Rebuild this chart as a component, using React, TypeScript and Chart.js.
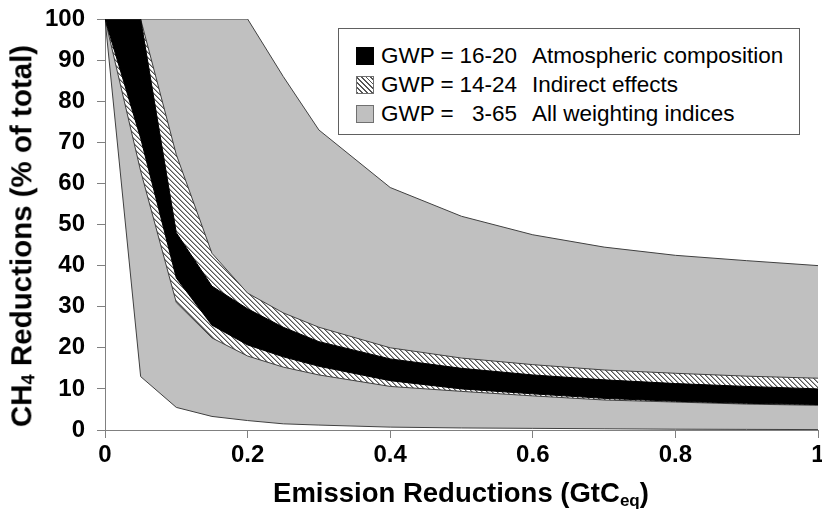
import React, { useEffect, useRef } from "react";
import { Chart, registerables } from "chart.js";

Chart.register(...registerables);

// Emission reductions (GtCeq) at which the band edges were read
const xValues = [0, 0.05, 0.1, 0.15, 0.2, 0.25, 0.3, 0.4, 0.5, 0.6, 0.7, 0.8, 0.9, 1.0];

// GWP = 16-20 (Atmospheric composition)
const blackUpper = [100, 100, 48, 35, 29.5, 25, 21.5, 17.3, 15, 13.4, 12.2, 11.3, 10.6, 10];
const blackLower = [100, 71, 37, 25.5, 20.7, 17.8, 15.5, 12, 10, 8.8, 7.7, 7.0, 6.5, 6.2];

// GWP = 14-24 (Indirect effects)
const hatchUpper = [100, 100, 67, 43, 33.3, 28.5, 25, 20, 17.5, 15.9, 14.6, 13.8, 13.1, 12.6];
const hatchLower = [100, 63, 31, 22.4, 18, 15.3, 13.4, 10.6, 9.4, 8.3, 7.3, 6.8, 6.3, 6.0];

// GWP = 3-65 (All weighting indices)
const grayUpper = [100, 100, 100, 100, 100, 86, 73, 59, 52, 47.5, 44.5, 42.5, 41.2, 40];
const grayLower = [100, 13, 5.5, 3.3, 2.3, 1.5, 1.2, 0.7, 0.5, 0.4, 0.3, 0.2, 0.15, 0.1];

const xTickValues = [0, 0.2, 0.4, 0.6, 0.8, 1];
const xTickLabels = ["0", "0.2", "0.4", "0.6", "0.8", "1"];
const yTickValues = [0, 10, 20, 30, 40, 50, 60, 70, 80, 90, 100];
const yTickLabels = ["0", "10", "20", "30", "40", "50", "60", "70", "80", "90", "100"];

const legendGwp = ["16-20", "14-24", "3-65"];
const legendDesc = ["Atmospheric composition", "Indirect effects", "All weighting indices"];

const toPoints = (ys: number[]) => xValues.map((x, i) => ({ x, y: ys[i] }));

function makeHatch(ctx: CanvasRenderingContext2D) {
  const n = 5;
  const c = document.createElement("canvas");
  c.width = n;
  c.height = n;
  const g = c.getContext("2d")!;
  g.fillStyle = "#ffffff";
  g.fillRect(0, 0, n, n);
  for (let y = 0; y < n; y++) {
    for (let x = 0; x < n; x++) {
      const m = (((x - y) % n) + n) % n;
      if (m === 0) {
        g.fillStyle = "#555555";
        g.fillRect(x, y, 1, 1);
      } else if (m === 1) {
        g.fillStyle = "#a8a8a8";
        g.fillRect(x, y, 1, 1);
      }
    }
  }
  return ctx.createPattern(c, "repeat")!;
}

export default function App() {
  const canvasRef = useRef<HTMLCanvasElement | null>(null);

  useEffect(() => {
    const canvas = canvasRef.current!;
    const ctx = canvas.getContext("2d")!;
    const hatch = makeHatch(ctx);
    const edge = "#404040";
    const base = {
      pointRadius: 0,
      pointHoverRadius: 0,
      tension: 0,
      borderWidth: 1,
    };
    const chart = new Chart(ctx, {
      type: "line",
      data: {
        datasets: [
          { ...base, label: "bu", data: toPoints(blackUpper), borderColor: "#000", backgroundColor: "#000", fill: "+1" },
          { ...base, label: "bl", data: toPoints(blackLower), borderColor: "#000", backgroundColor: "#000", fill: false },
          { ...base, label: "hu", data: toPoints(hatchUpper), borderColor: edge, backgroundColor: hatch, fill: "+1" },
          { ...base, label: "hl", data: toPoints(hatchLower), borderColor: edge, backgroundColor: hatch, fill: false },
          { ...base, label: "gu", data: toPoints(grayUpper), borderColor: edge, backgroundColor: "#c0c0c0", fill: "+1" },
          { ...base, label: "gl", data: toPoints(grayLower), borderColor: edge, backgroundColor: "#c0c0c0", fill: false },
        ],
      },
      options: {
        animation: false,
        responsive: false,
        maintainAspectRatio: false,
        events: [],
        layout: { padding: { top: 19, right: 4, left: 0, bottom: 0 } },
        plugins: {
          legend: { display: false },
          tooltip: { enabled: false },
          filler: { drawTime: "beforeDatasetsDraw" },
        },
        scales: {
          x: {
            type: "linear",
            min: 0,
            max: 1,
            afterBuildTicks: (s: any) => {
              s.ticks = xTickValues.map((v) => ({ value: v }));
            },
            afterFit: (s: any) => {
              s.height = 97;
              s.paddingLeft = 0;
              s.paddingRight = 0;
            },
            ticks: {
              autoSkip: false,
              maxRotation: 0,
              padding: 3,
              color: "#000",
              font: { family: "'Liberation Sans', Arial, sans-serif", size: 24, weight: "bold" },
              callback: (v: any) => {
                const i = xTickValues.findIndex((t) => Math.abs(t - Number(v)) < 1e-9);
                return i >= 0 ? xTickLabels[i] : "";
              },
            },
            grid: { drawOnChartArea: false, drawTicks: true, tickLength: 8, color: "#808080" },
            border: { display: true, color: "#808080", width: 1 },
          },
          y: {
            type: "linear",
            min: 0,
            max: 100,
            afterBuildTicks: (s: any) => {
              s.ticks = yTickValues.map((v) => ({ value: v }));
            },
            afterFit: (s: any) => {
              s.width = 105;
              s.paddingTop = 0;
              s.paddingBottom = 0;
            },
            ticks: {
              autoSkip: false,
              padding: 12,
              color: "#000",
              font: { family: "'Liberation Sans', Arial, sans-serif", size: 24, weight: "bold" },
              callback: (v: any) => {
                const i = yTickValues.indexOf(Number(v));
                return i >= 0 ? yTickLabels[i] : "";
              },
            },
            grid: { drawOnChartArea: false, drawTicks: true, tickLength: 8, color: "#808080" },
            border: { display: true, color: "#808080", width: 1 },
          },
        },
      },
    } as any);
    return () => chart.destroy();
  }, []);

  const font = "'Liberation Sans', Arial, sans-serif";
  const swatchBase: React.CSSProperties = {
    position: "absolute",
    left: 17,
    width: 18,
    height: 18,
    boxSizing: "border-box",
  };
  const swatchStyles: React.CSSProperties[] = [
    { background: "#000", border: "1px solid #000" },
    {
      background: "repeating-linear-gradient(45deg, #555555 0px, #555555 1.3px, #ffffff 1.3px, #ffffff 3.4px)",
      border: "1px solid #707070",
    },
    { background: "#c0c0c0", border: "1px solid #707070" },
  ];
  const rowCenters = [27, 56, 85];

  return (
    <div style={{ position: "absolute", left: 0, top: 0, width: 822, height: 527, background: "#fff", overflow: "hidden" }}>
      <canvas ref={canvasRef} width={822} height={527} style={{ position: "absolute", left: 0, top: 0, width: 822, height: 527 }} />
      {/* Legend */}
      <div
        style={{
          position: "absolute",
          left: 338,
          top: 28,
          width: 462,
          height: 107,
          boxSizing: "border-box",
          border: "1px solid #606060",
          background: "#fff",
          fontFamily: font,
          fontSize: 22.5,
          color: "#000",
        }}
      >
        {legendGwp.map((g, i) => (
          <React.Fragment key={i}>
            <div style={{ ...swatchBase, ...swatchStyles[i], top: rowCenters[i] - 9 }} />
            <div style={{ position: "absolute", left: 42, top: rowCenters[i] - 14, height: 28, lineHeight: "28px", whiteSpace: "pre" }}>
              GWP =
            </div>
            <div style={{ position: "absolute", left: 110, width: 68, textAlign: "right", top: rowCenters[i] - 14, height: 28, lineHeight: "28px", whiteSpace: "pre" }}>
              {g}
            </div>
            <div style={{ position: "absolute", left: 193, top: rowCenters[i] - 14, height: 28, lineHeight: "28px", whiteSpace: "pre" }}>
              {legendDesc[i]}
            </div>
          </React.Fragment>
        ))}
      </div>
      {/* Y axis title */}
      <div
        style={{
          position: "absolute",
          left: 25,
          top: 236,
          transform: "translate(-50%, -50%) rotate(-90deg)",
          whiteSpace: "nowrap",
          fontFamily: font,
          fontWeight: "bold",
          fontSize: 29.5,
          lineHeight: "32px",
          color: "#000",
        }}
      >
        CH<sub style={{ fontSize: "0.62em", verticalAlign: "-0.18em" }}>4</sub> Reductions (% of total)
      </div>
      {/* X axis title */}
      <div
        style={{
          position: "absolute",
          left: 461,
          top: 497,
          transform: "translate(-50%, -50%)",
          whiteSpace: "nowrap",
          fontFamily: font,
          fontWeight: "bold",
          fontSize: 27.5,
          lineHeight: "32px",
          color: "#000",
        }}
      >
        Emission Reductions (GtC<sub style={{ fontSize: "0.62em", verticalAlign: "-0.25em" }}>eq</sub>)
      </div>
    </div>
  );
}
